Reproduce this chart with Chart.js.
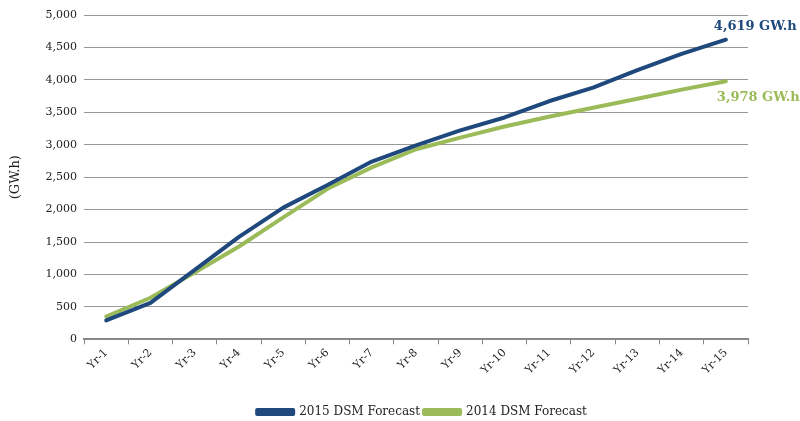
<!DOCTYPE html>
<html>
<head>
<meta charset="utf-8">
<script src="https://cdn.jsdelivr.net/npm/chart.js@4/dist/chart.umd.min.js"></script>
<style>
  html, body { margin: 0; padding: 0; background: #fff; }
  #wrap { width: 800px; height: 421px; position: relative; }
</style>
</head>
<body>
<div id="wrap"><canvas id="c" width="800" height="421"></canvas></div>
<script>
// Forecast years
const years = ['Yr-1','Yr-2','Yr-3','Yr-4','Yr-5','Yr-6','Yr-7','Yr-8','Yr-9','Yr-10','Yr-11','Yr-12','Yr-13','Yr-14','Yr-15'];
// Cumulative DSM savings, GW.h
const dsm2015 = [290, 560, 1070, 1580, 2030, 2380, 2740, 2990, 3220, 3420, 3670, 3880, 4150, 4400, 4619];
const dsm2014 = [350, 640, 1030, 1430, 1880, 2320, 2650, 2930, 3110, 3280, 3430, 3570, 3710, 3850, 3978];
const yTicks = [0, 500, 1000, 1500, 2000, 2500, 3000, 3500, 4000, 4500, 5000];

const BLUE = '#1f497d';
const GREEN = '#9bbb59';
const SERIF = '"DejaVu Serif", "Liberation Serif", serif';

// Writes the final-year total next to the end of each line
const endLabels = {
  id: 'endLabels',
  afterDatasetsDraw(chart) {
    const { ctx, scales } = chart;
    const last = years.length - 1;
    const x = scales.x.getPixelForValue(last);
    ctx.save();
    ctx.font = 'bold 13px ' + SERIF;
    ctx.textAlign = 'left';
    ctx.textBaseline = 'middle';
    const fmt = v => v.toLocaleString('en-US') + ' GW.h';
    ctx.fillStyle = BLUE;
    ctx.fillText(fmt(dsm2015[last]), x - 12, scales.y.getPixelForValue(dsm2015[last]) - 13);
    ctx.fillStyle = GREEN;
    ctx.fillText(fmt(dsm2014[last]), x - 9, scales.y.getPixelForValue(dsm2014[last]) + 16);
    ctx.restore();
  }
};

// Centres the legend under the plot and drops it to the bottom edge
const legendShift = {
  id: 'legendShift',
  afterLayout(chart) {
    const lg = chart.legend;
    if (!lg) return;
    const dx = (chart.chartArea.left + chart.chartArea.right) / 2 + 6 - (lg.left + lg.right) / 2;
    lg.left += dx; lg.right += dx;
    lg.top += 7; lg.bottom += 7;
  }
};

new Chart(document.getElementById('c'), {
  type: 'line',
  data: {
    labels: years,
    datasets: [
      { label: '2015 DSM Forecast', data: dsm2015, borderColor: BLUE, backgroundColor: BLUE,
        borderWidth: 4, pointRadius: 0, tension: 0, borderCapStyle: 'round', borderJoinStyle: 'round' },
      { label: '2014 DSM Forecast', data: dsm2014, borderColor: GREEN, backgroundColor: GREEN,
        borderWidth: 4, pointRadius: 0, tension: 0, borderCapStyle: 'round', borderJoinStyle: 'round' }
    ]
  },
  options: {
    responsive: false,
    animation: false,
    layout: { padding: { top: 15, right: 52, left: 4, bottom: 0 } },
    plugins: {
      tooltip: { enabled: false },
      legend: {
        position: 'bottom',
        labels: {
          color: '#222',
          font: { family: SERIF, size: 12 },
          boxWidth: 36,
          boxHeight: 4,
          padding: 4
        }
      }
    },
    scales: {
      x: {
        offset: true,
        grid: { display: true, drawOnChartArea: false, drawTicks: true, tickLength: 5, color: '#888', offset: true },
        border: { display: true, color: '#888', width: 2 },
        ticks: {
          color: '#222',
          font: { family: SERIF, size: 11 },
          maxRotation: 45, minRotation: 45,
          autoSkip: false, padding: 2
        },
        afterFit(scale) { scale.height += 16; }
      },
      y: {
        min: 0, max: 5000,
        afterBuildTicks(scale) { scale.ticks = yTicks.map(v => ({ value: v })); },
        grid: { color: '#999', lineWidth: 1, drawTicks: false },
        border: { display: false },
        title: { display: true, text: '(GW.h)', color: '#222', font: { family: SERIF, size: 13 }, padding: { bottom: 15 } },
        ticks: {
          color: '#222',
          font: { family: SERIF, size: 11 },
          padding: 7,
          callback: v => v.toLocaleString('en-US')
        }
      }
    }
  },
  plugins: [endLabels, legendShift]
});
</script>
</body>
</html>
